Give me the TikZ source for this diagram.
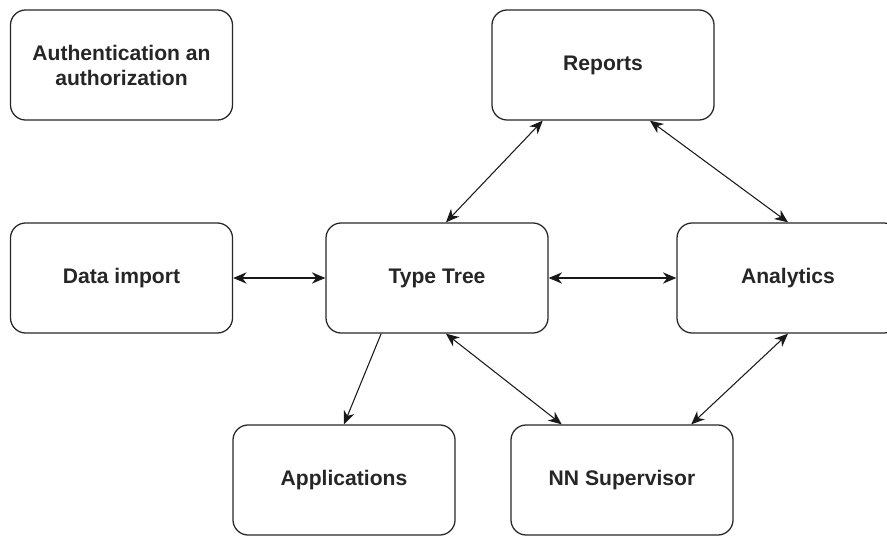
\documentclass[tikz,border=0pt]{standalone}
\usepackage{fontspec}
\setmainfont{Liberation Sans}
\usetikzlibrary{arrows.meta,calc}

\begin{document}
\begin{tikzpicture}
  [ x=0.025cm, y=-0.025cm,
    box/.style={rectangle, rounded corners=0.38cm, draw=black!85, line width=0.9pt,
      minimum width=5.55cm, minimum height=2.75cm, align=center,
      font=\fontsize{15}{17.8}\selectfont\bfseries, text=black!85},
    link/.style={{Stealth[length=9.5pt,width=8pt,inset=3pt]}-{Stealth[length=9.5pt,width=8pt,inset=3pt]}, line width=0.75pt, black!90},
    onelink/.style={-{Stealth[length=9.5pt,width=8pt,inset=3pt]}, line width=0.75pt, black!90}
  ]
  \useasboundingbox (0,0) rectangle (887,536);

  \node[box] (auth) at (121.5,65) {Authentication an\\authorization};
  \node[box] (reports) at (603,65) {Reports};
  \node[box] (import) at (121.5,278) {Data import};
  \node[box] (tree) at (437,278) {Type Tree};
  \node[box] (analytics) at (788,278) {Analytics};
  \node[box] (apps) at (344,480) {Applications};
  \node[box] (nn) at (622,480) {NN Supervisor};

  \draw [link] ($(reports.south west)!0.23!(reports.south east)$) -- ($(tree.north west)!0.54!(tree.north east)$);
  \draw [link] ($(reports.south west)!0.71!(reports.south east)$) -- (analytics.north);
  \draw [link] (import.east) -- (tree.west);
  \draw [link] (tree.east) -- (analytics.west);
  \draw [onelink] ($(tree.south west)!0.25!(tree.south east)$) -- (apps.north);
  \draw [link] ($(tree.south west)!0.54!(tree.south east)$) -- ($(nn.north west)!0.23!(nn.north east)$);
  \draw [link] (analytics.south) -- ($(nn.north west)!0.81!(nn.north east)$);
\end{tikzpicture}
\end{document}
